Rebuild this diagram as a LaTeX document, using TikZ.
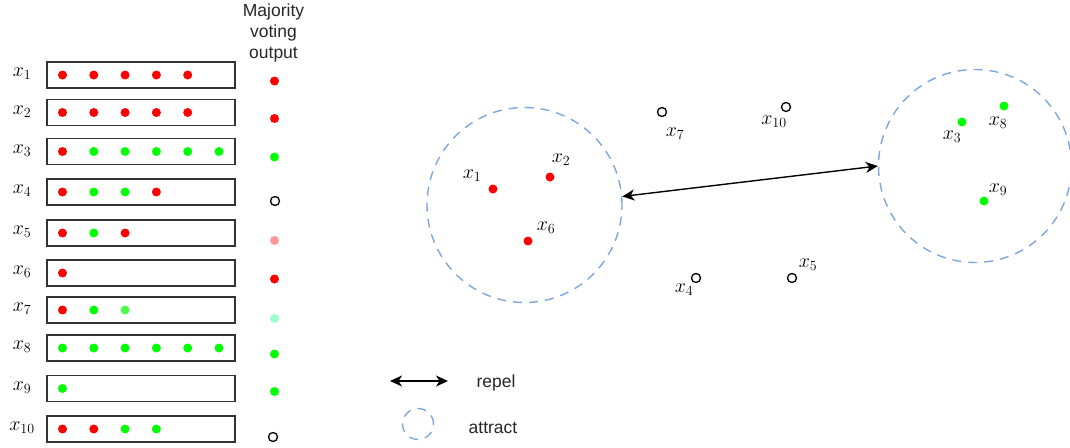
\RequirePackage{fix-cm}
\documentclass[tikz,border=0pt]{standalone}
\usepackage{fontspec}
\setmainfont{Liberation Sans}
\usetikzlibrary{arrows.meta}
\definecolor{cr}{HTML}{FF0000}
\definecolor{cg}{HTML}{00FF00}
\definecolor{clg}{HTML}{4DFF4D}
\definecolor{cpink}{HTML}{FF9999}
\definecolor{cteal}{HTML}{99FFCC}
\definecolor{cblue}{HTML}{7EA6E0}
\tikzset{
  dot/.style={circle, inner sep=0pt, minimum size=9pt, draw=none},
  odot/.style={circle, inner sep=0pt, minimum size=9pt, draw=black, line width=1.3pt},
  rowbox/.style={draw=black!80, line width=1.4pt, minimum width=188pt, minimum height=26pt, inner sep=0pt},
  lab/.style={inner sep=0pt, font=\fontsize{20}{24}\selectfont},
  txt/.style={inner sep=0pt, font=\fontsize{17.5}{21}\selectfont, text=black!85},
  attr/.style={circle, draw=cblue, line width=1.4pt, dash pattern=on 9pt off 7pt, inner sep=0pt},
  rep/.style={{Stealth[length=12pt,width=11pt,inset=3.5pt]}-{Stealth[length=12pt,width=11pt,inset=3.5pt]}, line width=1.4pt, black}
}
\begin{document}
\begin{tikzpicture}[x=1pt,y=-1pt]
\useasboundingbox (0,0) rectangle (1070,447);
% header
\node[txt, align=center] (hdr) at (273.5,33) {Majority\\voting\\output};
% rows
\foreach \i/\y/\cols in {
  1/75/{cr,cr,cr,cr,cr},
  2/112.5/{cr,cr,cr,cr,cr},
  3/151.5/{cr,cg,cg,cg,cg,cg},
  4/192/{cr,cg,cg,cr},
  5/233/{cr,cg,cr},
  6/273/{cr},
  7/310/{cr,cg,clg},
  8/348/{cg,cg,cg,cg,cg,cg},
  9/388.5/{cg},
  10/429/{cr,cr,cg,cg}}{
  \node[rowbox] (box\i) at (141,\y) {};
  \node[lab] (lab\i) at (22,\y-1) {$x_{\i}$};
  \foreach \c [count=\k] in \cols {
    \node[dot, fill=\c] (d\i-\k) at (62.5+31.3*\k-31.3,\y) {};
  }
}
% outputs
\foreach \i/\y/\oc in {1/81/cr,2/118.5/cr,3/157/cg,5/240.5/cpink,6/279/cr,7/318.5/cteal,8/354/cg,9/391.5/cg}{
  \node[dot, fill=\oc] (o\i) at (274.5,\y) {};
}
\node[odot] (o4) at (275,201) {};
\node[odot] (o10) at (273,437) {};
% clusters
\node[attr, minimum size=195pt] (cl1) at (524.5,205) {};
\node[attr, minimum size=193pt] (cl2) at (975,166) {};
\draw[rep] (cl1.5) -- (cl2.180);
% cluster 1 points
\node[dot, fill=cr] (p1) at (493,189) {};
\node[lab] (q1) at (472,176) {$x_1$};
\node[dot, fill=cr] (p2) at (550,177) {};
\node[lab] (q2) at (561,160) {$x_2$};
\node[dot, fill=cr] (p6) at (528,241) {};
\node[lab] (q6) at (546,228) {$x_6$};
% cluster 2 points
\node[dot, fill=cg] (p3) at (962,122) {};
\node[lab] (q3) at (952,137) {$x_3$};
\node[dot, fill=cg] (p8) at (1004,106) {};
\node[lab] (q8) at (998,123) {$x_8$};
\node[dot, fill=cg] (p9) at (984,201) {};
\node[lab] (q9) at (998,190) {$x_9$};
% unassigned points
\node[odot] (p7) at (662,112) {};
\node[lab] (q7) at (675,134) {$x_7$};
\node[odot] (p10) at (786,107) {};
\node[lab] (q10) at (774,122) {$x_{10}$};
\node[odot] (p4) at (696,278) {};
\node[lab] (q4) at (684,290) {$x_4$};
\node[odot] (p5) at (792,278) {};
\node[lab] (q5) at (808,265) {$x_5$};
% legend
\coordinate (r1) at (390,381);
\coordinate (r2) at (448,381);
\draw[rep] (r1) -- (r2);
\node[txt] (repel) at (496,383) {repel};
\node[attr, minimum size=31pt] (la) at (418,424) {};
\node[txt] (attract) at (493,428) {attract};
\end{tikzpicture}
\end{document}
